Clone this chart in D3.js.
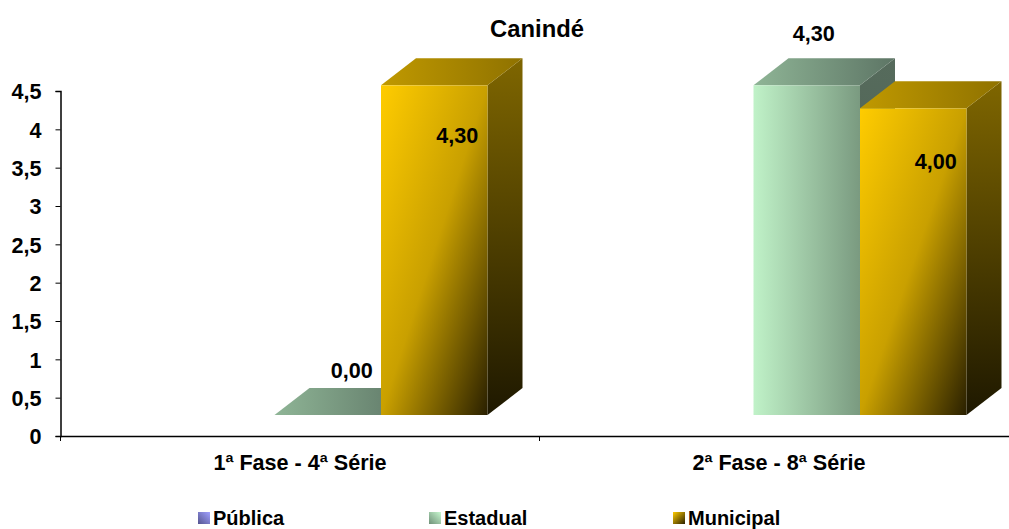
<!DOCTYPE html>
<html>
<meta charset="utf-8">
<style type="text/css">
  html, body { margin: 0; padding: 0; background: #fff; overflow: hidden; }
  svg { display: block; }
  text { font-family: "Liberation Sans", Arial, sans-serif; font-weight: bold; fill: #000; }
  .axis text { font-size: 21.6px; }
</style>
<body>
<svg width="1009" height="529"></svg>
<script src="https://d3js.org/d3.v7.min.js"></script>
<script>
const title = "Canindé";
const categories = ["1ª Fase - 4ª Série", "2ª Fase - 8ª Série"];
const seriesNames = ["Pública", "Estadual", "Municipal"];
const publica = [null, null];
const estadual = [0, 4.3];
const municipal = [4.3, 4.0];
const yTicks = [0, 0.5, 1, 1.5, 2, 2.5, 3, 3.5, 4, 4.5];

const svg = d3.select("svg");
const margin = {left: 60.5, top: 91, bottom: 436, right: 1018.5};
const depth = {dx: 35, dy: 27, floor: 21}; // 3d look: front face sits above the axis

const x = d3.scaleBand().domain(categories).range([margin.left, margin.right]);
// bars are not centred in the band, the group is pushed right by the 3d depth
const x1 = d3.scaleBand().domain(seriesNames).range([107.5, 427]);
const y = d3.scaleLinear().domain([0, 4.5]).range([margin.bottom, margin.top]);

const comma = d => String(d).replace(".", ",");

// gradients
const defs = svg.append("defs");
function gradient(id, coords, stops) {
  const g = defs.append("linearGradient").attr("id", id)
    .attr("x1", coords[0]).attr("y1", coords[1]).attr("x2", coords[2]).attr("y2", coords[3]);
  stops.forEach(s => g.append("stop").attr("offset", s[0]).attr("stop-color", s[1]));
}
gradient("estFront", [0, 0, 1, 0], [[0, "#c0f2c8"], [1, "#7a9a80"]]);
gradient("estTop", [0, 0, 1, 0], [[0, "#8fb596"], [1, "#5d7565"]]);
gradient("estSide", [0, 0, 0, 1], [[0, "#566b5c"], [1, "#4a5c50"]]);
gradient("munFront", [0, 0, 1, 1], [[0, "#ffcc00"], [0.5, "#c9a000"], [1, "#2a2000"]]);
gradient("munTop", [0, 0, 1, 0], [[0, "#c09900"], [1, "#8f7200"]]);
gradient("munSide", [0, 0, 0, 1], [[0, "#7f6600"], [1, "#1e1800"]]);
gradient("legPub", [0, 1, 1, 0], [[0, "#55558f"], [1, "#a0a0ff"]]);
gradient("legEst", [0, 1, 1, 0], [[0, "#6f9078"], [1, "#c8f8d0"]]);
gradient("legMun", [0, 0, 1, 1], [[0, "#ffcc00"], [1, "#2a2000"]]);

// axes
const yAxis = d3.axisLeft(y).tickValues(yTicks).tickSize(5).tickPadding(14).tickFormat(comma);
const gy = svg.append("g").attr("class", "axis").attr("transform", `translate(${margin.left},0)`).call(yAxis);
const xAxis = d3.axisBottom(x).tickValues([]).tickSize(0);
const gx = svg.append("g").attr("class", "axis").attr("transform", `translate(0,${margin.bottom})`).call(xAxis);
gx.selectAll("line.sep").data(x.domain().concat("end")).enter().append("line").attr("class", "sep")
  .attr("x1", (d, i) => margin.left + i * x.step()).attr("x2", (d, i) => margin.left + i * x.step())
  .attr("y1", 0).attr("y2", 5).attr("stroke", "#000");
svg.selectAll(".axis path").attr("stroke", "#000").attr("stroke-width", 1.5);
svg.selectAll(".axis .tick line").attr("stroke", "#000");
gy.selectAll("text").attr("dy", "0.36em");

svg.append("g").selectAll("text").data(categories).enter().append("text")
  .attr("x", d => x(d) + x.bandwidth() / 2).attr("y", 470)
  .attr("text-anchor", "middle").style("font-size", "21.6px").text(d => d);

svg.append("text").attr("x", 537).attr("y", 37).attr("text-anchor", "middle")
  .style("font-size", "23.8px").text(title);

// bars
const rows = [];
categories.forEach((c, i) => {
  rows.push({cat: c, name: "Estadual", key: "est", value: estadual[i]});
  rows.push({cat: c, name: "Municipal", key: "mun", value: municipal[i]});
});
const pts = a => a.map(p => p.join(",")).join(" ");
const bars = svg.append("g").selectAll("g").data(rows).enter().append("g");
bars.each(function(d) {
  const g = d3.select(this);
  const x0 = x(d.cat) + x1(d.name), x2 = x0 + x1.bandwidth();
  const base = y(0) - depth.floor, topY = y(d.value) - depth.floor;
  g.append("polygon").attr("fill", `url(#${d.key}Side)`)
    .attr("points", pts([[x2, base], [x2 + depth.dx, base - depth.dy], [x2 + depth.dx, topY - depth.dy], [x2, topY]]));
  g.append("polygon").attr("fill", `url(#${d.key}Top)`)
    .attr("points", pts([[x0, topY], [x0 + depth.dx, topY - depth.dy], [x2 + depth.dx, topY - depth.dy], [x2, topY]]));
  if (d.value > 0) g.append("rect").attr("x", x0).attr("y", topY).attr("width", x2 - x0).attr("height", base - topY)
    .attr("fill", `url(#${d.key}Front)`);
});

// value labels, each one placed by hand like in the original
const labelNudge = [[24, -45], [23, 50], [7, -52], [22.5, 53]];
svg.append("g").selectAll("text").data(rows).enter().append("text")
  .attr("x", (d, i) => x(d.cat) + x1(d.name) + x1.bandwidth() / 2 + labelNudge[i][0])
  .attr("y", (d, i) => y(d.value) - depth.floor + labelNudge[i][1])
  .attr("dy", "0.36em").attr("text-anchor", "middle").style("font-size", "21.6px")
  .text(d => d3.format(".2f")(d.value).replace(".", ","));

// legend
const legendX = d3.scaleOrdinal().domain(seriesNames).range([198, 429, 673]);
const legendFill = d3.scaleOrdinal().domain(seriesNames).range(["legPub", "legEst", "legMun"]);
const legend = svg.append("g").selectAll("g").data(seriesNames).enter().append("g")
  .attr("transform", d => `translate(${legendX(d)},512)`);
legend.append("rect").attr("width", 12).attr("height", 12).attr("fill", d => `url(#${legendFill(d)})`);
legend.append("text").attr("x", 15).attr("y", 13).style("font-size", "20px").text(d => d);
</script>
</body>
</html>
